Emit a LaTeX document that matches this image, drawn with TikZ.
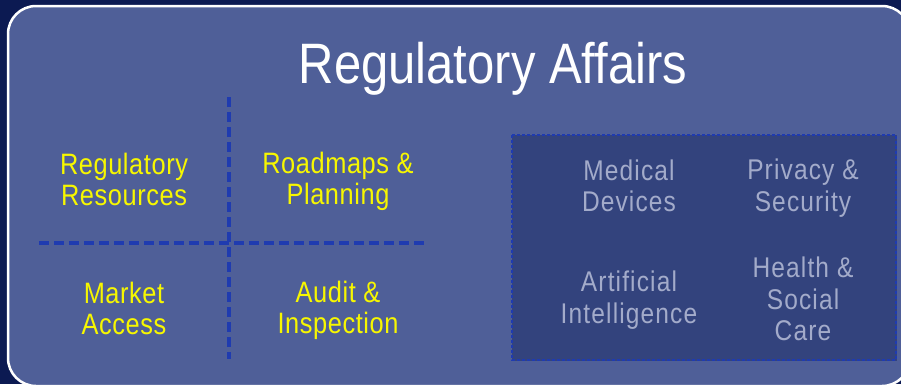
\documentclass[tikz,border=0pt]{standalone}
\usepackage{fontspec}
\setmainfont[FakeStretch=0.86]{Liberation Sans}
\newfontfamily\spacedfont[FakeStretch=0.86,LetterSpace=4]{Liberation Sans}
\newfontfamily\slightfont[FakeStretch=0.86,LetterSpace=2]{Liberation Sans}
\definecolor{bgnavy}{HTML}{0C1A52}
\definecolor{boxblue}{HTML}{4F5F98}
\definecolor{darkbox}{HTML}{33437D}
\definecolor{dashblue}{HTML}{1F3BB0}
\definecolor{ylw}{HTML}{F7F700}
\definecolor{greytxt}{HTML}{A3ABCA}
\tikzset{
  divider/.style={dashblue, line width=3.5pt, dash pattern=on 10pt off 5pt},
  yellowlabel/.style={text=ylw, align=center, font=\slightfont\fontsize{29.5}{31}\selectfont, inner sep=0pt},
  greylabel/.style={text=greytxt, align=center, font=\spacedfont\fontsize{28.5}{31.5}\selectfont, inner sep=0pt},
}
\begin{document}
\begin{tikzpicture}[x=1pt,y=-1pt]
\fill[bgnavy] (0,0) rectangle (901,384);
\useasboundingbox (0,0) rectangle (901,384);
\begin{scope}
\clip (0,0) rectangle (901,384);
\draw[white, line width=2.5pt, fill=boxblue, rounded corners=28pt] (8,6) rectangle (910,386);
\end{scope}
\node[text=white, font=\fontsize{57}{60}\selectfont, inner sep=0pt] (title) at (493,69) {Regulatory Affairs};
% dividers
\coordinate (vtop) at (229,97);
\coordinate (vbot) at (229,359);
\coordinate (hl) at (39,243);
\coordinate (hr) at (425,243);
\draw[divider] (vtop) -- (vbot);
\draw[divider] (hl) -- (hr);
% dark box
\draw[darkbox, fill=darkbox] (512,135) rectangle (896,360);
\draw[dashblue, line width=1.3pt, dash pattern=on 3pt off 2pt] (512,135) rectangle (896,360);
% yellow labels
\node[yellowlabel] (res) at (124,179) {Regulatory\\Resources};
\node[yellowlabel] (road) at (338,181) {Roadmaps \&\\Planning};
\node[yellowlabel] (market) at (124,308) {Market\\Access};
\node[yellowlabel] (audit) at (338,310) {Audit \&\\Inspection};
% grey labels
\node[greylabel] (med) at (629,186) {Medical\\Devices};
\node[greylabel] (priv) at (803,188) {Privacy \&\\Security};
\node[greylabel] (ai) at (629,300) {Artificial\\Intelligence};
\node[greylabel] (health) at (803,299) {Health \&\\Social\\Care};
\end{tikzpicture}
\end{document}
